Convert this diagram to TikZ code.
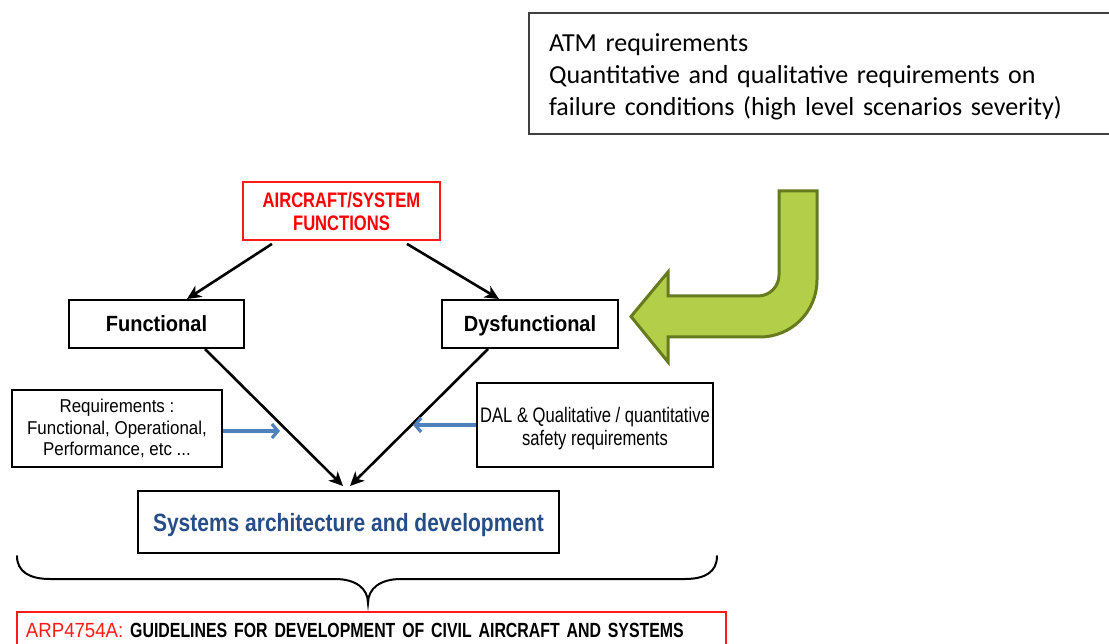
\documentclass[tikz,border=0pt]{standalone}
\usepackage{fontspec}
\setmainfont{Liberation Sans}
\newfontfamily\calibri{Carlito}
\newfontfamily\narrowA[FakeStretch=0.79]{Liberation Sans}
\newfontfamily\narrowB[FakeStretch=0.84]{Liberation Sans}
\newfontfamily\narrowC[FakeStretch=0.91]{Liberation Sans}
\newfontfamily\narrowD[FakeStretch=0.775]{Liberation Sans}
\usetikzlibrary{arrows.meta}
\definecolor{leaf}{HTML}{B3CE48}
\definecolor{olive}{HTML}{667A1E}
\definecolor{linkblue}{HTML}{4F81BD}
\definecolor{navy}{HTML}{264D86}
\definecolor{boxred}{HTML}{FF1A1A}
\definecolor{frame}{HTML}{404040}

\begin{document}
\begin{tikzpicture}[x=1pt,y=-1pt,
  box/.style={draw=black, line width=2pt, inner sep=0pt, align=center},
  redbox/.style={draw=boxred, line width=1.8pt, inner sep=0pt, align=center},
  flow/.style={line width=2.6pt, -{Stealth[length=14pt,width=13pt,inset=4pt]}},
  hint/.style={draw=linkblue, line width=3.2pt, -{Straight Barb[length=6pt,width=14pt]}},
]
\useasboundingbox (0,0) rectangle (1109,644);

% ATM requirements note (right edge runs off the page)
\node[draw=frame, line width=1.8pt, inner xsep=20pt, inner ysep=0pt,
      minimum height=121pt, text width=543pt, align=left,
      font=\calibri\fontsize{26}{31.8}\selectfont] (atm) at (820.5,73.5)
  {\rule{0pt}{25pt}ATM requirements\\
   Quantitative and qualitative requirements on\\
   failure conditions (high level scenarios severity)};

% bent green arrow
\draw[draw=olive, fill=leaf, line width=3pt, line join=miter]
  (817,191) -- (817,280) .. controls (817,311.5) and (791.5,337) .. (760,337)
  -- (668,337) -- (668,362) -- (631,316.5) -- (668,272) -- (668,296)
  -- (758,296) .. controls (769.6,296) and (779,286.6) .. (779,275)
  -- (779,191) -- cycle;

% main nodes
\node[redbox, minimum width=197pt, minimum height=58pt, text=red,
      font=\narrowA\bfseries\fontsize{21}{23}\selectfont] (af) at (341.5,211)
  {AIRCRAFT/SYSTEM\\FUNCTIONS};
\node[box, minimum width=175pt, minimum height=48pt, text depth=0pt,
      font=\narrowC\bfseries\fontsize{22}{26}\selectfont] (fn) at (156.5,324) {Functional};
\node[box, minimum width=176pt, minimum height=48pt, text depth=0pt,
      font=\narrowC\bfseries\fontsize{22}{26}\selectfont] (dys) at (530,324) {Dysfunctional};
\node[box, minimum width=210pt, minimum height=77pt,
      font=\narrowC\fontsize{18.6}{21.5}\selectfont] (req) at (117,428.5)
  {Requirements :\\Functional, Operational,\\Performance, etc ...};
\node[box, minimum width=236pt, minimum height=84pt,
      font=\narrowA\fontsize{21}{23}\selectfont] (dal) at (595,425)
  {\rule{0pt}{22pt}DAL \& Qualitative / quantitative\\safety requirements};
\node[box, minimum width=421pt, minimum height=62pt, text=navy, text depth=0pt,
      font=\narrowB\bfseries\fontsize{25}{28}\selectfont] (sys) at (348.5,522)
  {Systems architecture and development};

% standard box at the bottom (runs off the page)
\node[redbox, anchor=north west, minimum width=709pt, minimum height=37pt,
      inner xsep=9pt, text width=691pt, align=left,
      font=\fontsize{20.5}{24}\selectfont] (arp) at (16,611)
  {{\narrowC\color{boxred}ARP4754A:} {\narrowD\bfseries GUIDELINES FOR DEVELOPMENT OF CIVIL AIRCRAFT AND SYSTEMS}};

% flow arrows
\draw[flow] ([xshift=-69.5pt,yshift=-3pt]af.south) -- ([xshift=30.5pt]fn.north);
\draw[flow] ([xshift=65.5pt,yshift=-3pt]af.south) -- ([xshift=-31pt]dys.north);
\draw[flow] ([xshift=48.5pt]fn.south) -- ([xshift=-5.5pt,yshift=4pt]sys.north);
\draw[flow] ([xshift=-42pt]dys.south) -- ([xshift=1.5pt,yshift=4pt]sys.north);

% requirement inputs
\coordinate (reqin) at (280,431);
\coordinate (dalin) at (413,425);
\draw[hint] ([yshift=-2.5pt]req.east) -- (reqin);
\draw[hint] (dal.west) -- (dalin);

% brace gathering the development scope
\draw[line width=2pt, line cap=round]
  (17,556) .. controls (17,572) and (30,579) .. (50,579) -- (335,579)
  .. controls (355,579) and (368,588) .. (368,603)
  .. controls (368,588) and (381,579) .. (401,579) -- (685,579)
  .. controls (705,579) and (717,572) .. (717,556);
\end{tikzpicture}
\end{document}
